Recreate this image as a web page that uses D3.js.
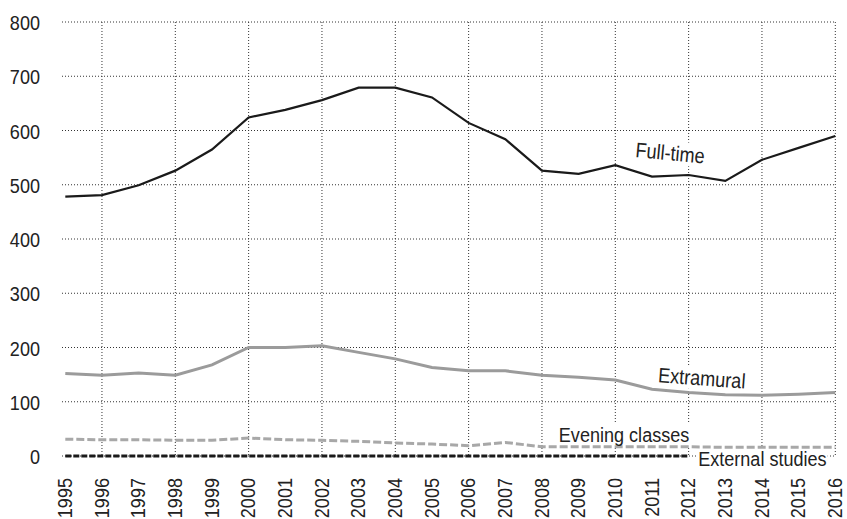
<!DOCTYPE html>
<html>
<head>
<meta charset="utf-8">
<script src="https://cdn.jsdelivr.net/npm/d3@7/dist/d3.min.js"></script>
<style>
  html, body { margin: 0; padding: 0; background: #fff; }
  svg { display: block; }
  text { font-family: "Liberation Sans", Arial, sans-serif; fill: #222; }
</style>
</head>
<body>
<svg id="chart" width="847" height="519"></svg>
<script>
const years = [1995,1996,1997,1998,1999,2000,2001,2002,2003,2004,2005,2006,2007,2008,2009,2010,2011,2012,2013,2014,2015,2016];
const fullTime   = [478,481,499,526,565,624,638,656,679,679,661,614,584,526,520,536,515,518,507,546,568,590];
const extramural = [152,149,153,149,168,200,200,203,191,179,163,157,157,149,145,140,123,117,113,112,114,117];
const evening    = [31,30,30,29,29,33,30,29,27,24,22,19,25,17,17,17,17,17,16,16,16,16];
const externalStudies = [0,0,0,0,0,0,0,0,0,0,0,0,0,0,0,0,0,0]; // 1995–2012
const yTicks = [0,100,200,300,400,500,600,700,800];
const gridYears = [1996,1998,2000,2002,2004,2006,2008,2010,2012,2014,2016];
const seriesNames = ["Full-time","Extramural","Evening classes","External studies"];

const FONT = '"Liberation Sans", Arial, sans-serif';
const FS = 21;          // font size
const NARROW = 0.86;    // horizontal condensing factor

const svg = d3.select("#chart");
const x = d3.scaleLinear().domain([1995, 2016]).range([65.3, 835.3]);
const y = d3.scaleLinear().domain([0, 800]).range([456, 22]);
const gridLeft = 62, gridRight = 835.3;

// horizontal grid
svg.append("g").selectAll("line").data(yTicks).join("line")
  .attr("x1", gridLeft).attr("x2", gridRight)
  .attr("y1", d => y(d)).attr("y2", d => y(d))
  .attr("stroke", "#333").attr("stroke-width", 1).attr("stroke-dasharray", "1,2");
// vertical grid
svg.append("g").selectAll("line").data(gridYears).join("line")
  .attr("x1", d => x(d)).attr("x2", d => x(d))
  .attr("y1", y(800)).attr("y2", y(0))
  .attr("stroke", "#333").attr("stroke-width", 1).attr("stroke-dasharray", "1,2");

// y axis labels
const yAxis = d3.axisLeft(y).tickValues(yTicks).tickSize(0).tickPadding(0);
const gy = svg.append("g").attr("transform", "translate(40,0)").call(yAxis);
gy.select(".domain").remove();
gy.selectAll("text")
  .attr("x", 0).attr("dy", "0.36em")
  .attr("transform", `scale(${NARROW},1)`)
  .attr("font-size", FS).style("font-family", FONT).attr("fill", "#222");

// x axis labels
const xAxis = d3.axisBottom(x).tickValues(years).tickFormat(d3.format("d")).tickSize(0).tickPadding(0);
const gx = svg.append("g").attr("transform", "translate(0,478)").call(xAxis);
gx.select(".domain").remove();
gx.selectAll("text")
  .attr("font-size", FS)
  .attr("transform", `rotate(-90) scale(${NARROW},1)`)
  .attr("text-anchor", "end")
  .attr("x", 0).attr("y", 0).attr("dy", "0.3em")
  .style("font-family", FONT).attr("fill", "#222");

// label backgrounds layer (behind lines, above grid)
const bgLayer = svg.append("g");
const lineLayer = svg.append("g");
const labelLayer = svg.append("g");

const line = d3.line().x((d, i) => x(years[i])).y(d => y(d));

lineLayer.append("path").datum(evening).attr("d", line)
  .attr("fill", "none").attr("stroke", "#a8a8a8").attr("stroke-width", 3).attr("stroke-dasharray", "8,3");
lineLayer.append("path").datum(externalStudies).attr("d", line)
  .attr("fill", "none").attr("stroke", "#1a1a1a").attr("stroke-width", 3).attr("stroke-dasharray", "6,2");
lineLayer.append("path").datum(extramural).attr("d", line)
  .attr("fill", "none").attr("stroke", "#9b9b9b").attr("stroke-width", 3);
lineLayer.append("path").datum(fullTime).attr("d", line)
  .attr("fill", "none").attr("stroke", "#1a1a1a").attr("stroke-width", 2.2);

const labels = [
  { name: seriesNames[0], yr: 2010.54, v: 551, rot: 5.3 },
  { name: seriesNames[1], yr: 2011.16, v: 136, rot: 4.2 },
  { name: seriesNames[2], yr: 2008.46, v: 26.4, rot: 0 },
  { name: seriesNames[3], yr: 2012.26, v: -18.4, rot: 0 }
];
labels.forEach(l => {
  const tx = x(l.yr), ty = y(l.v);
  const tf = `translate(${tx},${ty}) rotate(${l.rot}) scale(${NARROW},1)`;
  const tg = labelLayer.append("g").attr("transform", tf);
  const t = tg.append("text").text(l.name).attr("font-size", FS)
    .style("font-family", FONT).attr("fill", "#2a2a2a");
  const bb = t.node().getBBox();
  bgLayer.append("g").attr("transform", tf)
    .append("rect").attr("x", bb.x - 1).attr("y", bb.y).attr("width", bb.width + 2).attr("height", bb.height)
    .attr("fill", "#fff");
});
</script>
</body>
</html>
